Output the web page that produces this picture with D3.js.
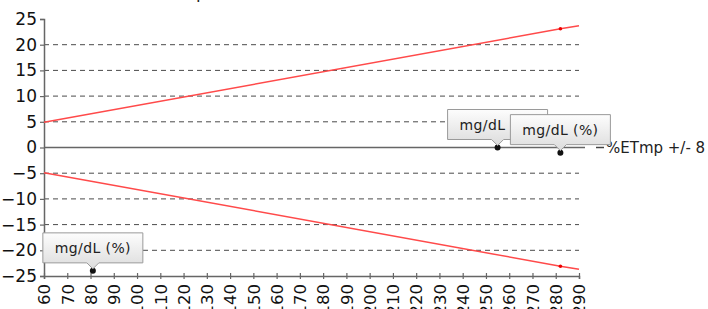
<!DOCTYPE html>
<html>
<head>
<meta charset="utf-8">
<script src="https://cdn.jsdelivr.net/npm/d3@7"></script>
<style>
  body { margin: 0; background: #fff; }
  svg { display: block; font-family: "DejaVu Sans", sans-serif; }
</style>
</head>
<body>
<script>
// Size of the page
var width = 708;
var height = 309;

// Chart data
var xTicks = d3.range(60, 291, 10);
var yTicks = [-25, -20, -15, -10, -5, 0, 5, 10, 15, 20, 25];
var upperLimit = [[60, 4.9], [282, 23.1], [290, 23.7]];
var lowerLimit = [[60, -4.9], [282, -23.1], [290, -23.7]];
var limitMarkers = [[282, 23.1], [282, -23.1]];
var points = [[81, -24], [255, 0], [282, -1]];
var pointLabels = ["mg/dL (%)", "mg/dL (%)", "mg/dL (%)"];
var legendLabel = "%ETmp +/- 8 -";
var titleText = "Bias %ETmp (Difference from Mean Value)";

var svg = d3.select('body').append('svg')
  .attr('width', width)
  .attr('height', height);

var x = d3.scaleLinear().domain([60, 290]).range([44, 579]);
var y = d3.scaleLinear().domain([-25, 25]).range([276, 19]);

// title, mostly cut off above the page
svg.append('text')
  .attr('x', 101)
  .attr('y', -2)
  .attr('font-size', 17)
  .attr('fill', '#222')
  .text(titleText);

// dashed grid lines
svg.append('g')
  .selectAll('line')
  .data(yTicks.filter(function (d) { return d !== 0 && d !== 25 && d !== -25; }))
  .enter().append('line')
  .attr('x1', x(60))
  .attr('x2', x(290))
  .attr('y1', function (d) { return y(d); })
  .attr('y2', function (d) { return y(d); })
  .attr('stroke', '#4a4a4a')
  .attr('stroke-width', 1)
  .attr('stroke-dasharray', '5,4');

// zero line
svg.append('line')
  .attr('x1', x(60))
  .attr('x2', 585)
  .attr('y1', y(0))
  .attr('y2', y(0))
  .attr('stroke', '#666')
  .attr('stroke-width', 1.5);

// y axis
var yAxis = svg.append('g')
  .attr('transform', 'translate(' + x(60) + ',0)')
  .call(d3.axisLeft(y).tickValues(yTicks).tickSize(4).tickPadding(3));
yAxis.selectAll('text').attr('font-size', 17).attr('fill', '#111')
  .attr('font-family', '"DejaVu Sans", sans-serif');

// x axis
var xAxis = svg.append('g')
  .attr('transform', 'translate(0,' + y(-25) + ')')
  .call(d3.axisBottom(x).tickValues(xTicks).tickSize(3).tickPadding(4));
xAxis.selectAll('.tick line').attr('y1', -3);
xAxis.selectAll('text')
  .attr('font-size', 16.5)
  .attr('fill', '#111')
  .attr('font-family', '"DejaVu Sans", sans-serif')
  .attr('transform', 'rotate(-90)')
  .attr('text-anchor', 'end')
  .attr('x', -8)
  .attr('y', 0)
  .attr('dy', '0.35em');

svg.selectAll('.domain').attr('stroke', '#666').attr('stroke-width', 1.5);
svg.selectAll('.tick line').attr('stroke', '#666').attr('stroke-width', 1.2);

// limit lines
var line = d3.line()
  .x(function (d) { return x(d[0]); })
  .y(function (d) { return y(d[1]); });

[upperLimit, lowerLimit].forEach(function (data) {
  svg.append('path')
    .datum(data)
    .attr('d', line)
    .attr('fill', 'none')
    .attr('stroke', '#ff4a4a')
    .attr('stroke-width', 1.5);
});

svg.append('g')
  .selectAll('circle')
  .data(limitMarkers)
  .enter().append('circle')
  .attr('cx', function (d) { return x(d[0]); })
  .attr('cy', function (d) { return y(d[1]); })
  .attr('r', 1.8)
  .attr('fill', '#e00');

// legend
svg.append('line')
  .attr('x1', 596).attr('x2', 604)
  .attr('y1', y(0)).attr('y2', y(0))
  .attr('stroke', '#444')
  .attr('stroke-width', 1.5);
svg.append('text')
  .attr('x', 606)
  .attr('y', 153)
  .attr('font-size', 15)
  .attr('fill', '#222')
  .text(legendLabel);

// data points
svg.append('g')
  .selectAll('circle')
  .data(points)
  .enter().append('circle')
  .attr('cx', function (d) { return x(d[0]); })
  .attr('cy', function (d) { return y(d[1]); })
  .attr('r', 3)
  .attr('fill', '#111');

// call-out labels
var defs = svg.append('defs');
var grad = defs.append('linearGradient')
  .attr('id', 'boxFill')
  .attr('x1', 0).attr('y1', 0).attr('x2', 0).attr('y2', 1);
grad.append('stop').attr('offset', '0%').attr('stop-color', '#fdfdfd');
grad.append('stop').attr('offset', '100%').attr('stop-color', '#dcdcdc');

var boxW = 100;
var boxH = 30;
var labels = svg.append('g')
  .selectAll('g')
  .data(points)
  .enter().append('g')
  .attr('transform', function (d) {
    return 'translate(' + x(d[0]) + ',' + (y(d[1]) - 8) + ')';
  });

labels.append('path')
  .attr('d', 'M' + (-boxW / 2) + ',' + (-boxH) +
             'h' + boxW + 'v' + boxH +
             'h' + (-(boxW / 2 - 6)) + 'l-6,6l-6,-6' +
             'h' + (-(boxW / 2 - 6)) + 'Z')
  .attr('fill', 'url(#boxFill)')
  .attr('stroke', '#9a9a9a')
  .attr('stroke-width', 1);

labels.append('text')
  .attr('x', 0)
  .attr('y', -10)
  .attr('text-anchor', 'middle')
  .attr('font-size', 14)
  .attr('letter-spacing', 0.4)
  .attr('fill', '#222')
  .text(function (d, i) { return pointLabels[i]; });
</script>
</body>
</html>
